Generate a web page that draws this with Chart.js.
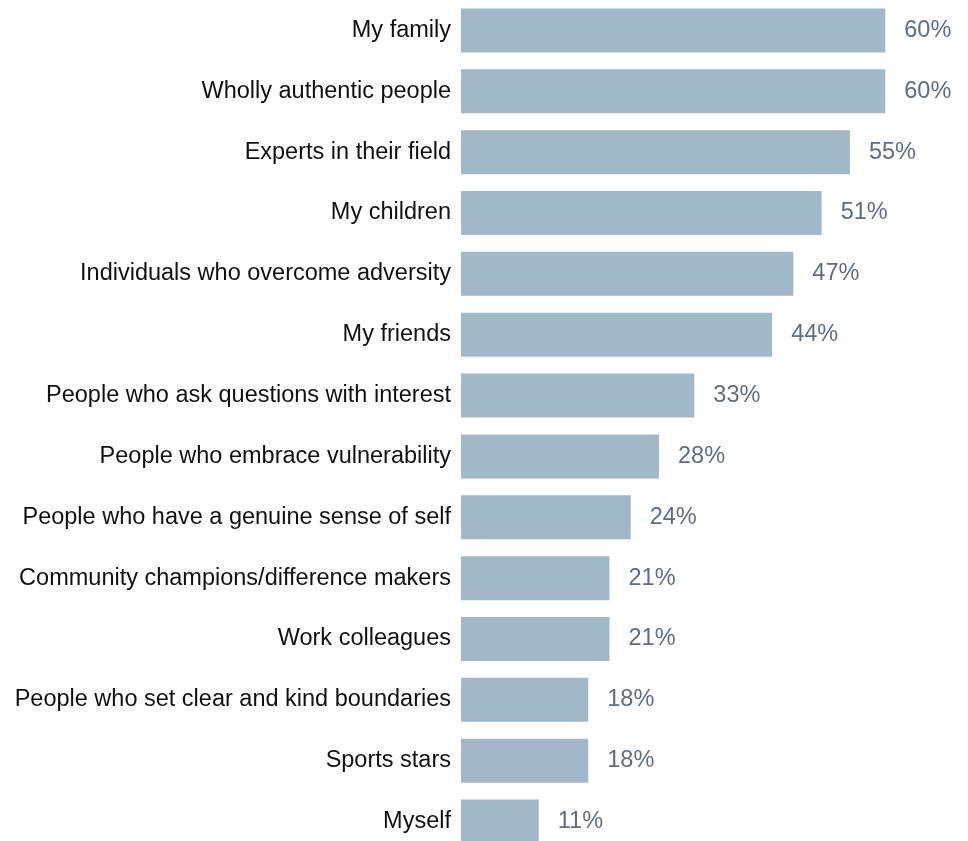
<!DOCTYPE html>
<html>
<head>
<meta charset="utf-8">
<script src="https://cdn.jsdelivr.net/npm/chart.js@4"></script>
<style>
  html, body { margin: 0; padding: 0; background: #fff; overflow: hidden; }
  #wrap { position: relative; width: 968px; height: 852px; }
</style>
</head>
<body>
<div id="wrap"><canvas id="myChart"></canvas></div>
<script>
let categories = [
  "My family",
  "Wholly authentic people",
  "Experts in their field",
  "My children",
  "Individuals who overcome adversity",
  "My friends",
  "People who ask questions with interest",
  "People who embrace vulnerability",
  "People who have a genuine sense of self",
  "Community champions/difference makers",
  "Work colleagues",
  "People who set clear and kind boundaries",
  "Sports stars",
  "Myself",
];
let shares = [60, 60, 55, 51, 47, 44, 33, 28, 24, 21, 21, 18, 18, 11];

let fontFamily = "'Liberation Sans', Arial, Helvetica, sans-serif";
let fontSize = 23.5;

// percent labels to the right of each bar
let valueLabels = {
  id: "valueLabels",
  afterDatasetsDraw(chart) {
    let ctx = chart.ctx;
    let meta = chart.getDatasetMeta(0);
    ctx.save();
    ctx.font = fontSize + "px " + fontFamily;
    ctx.fillStyle = "#5b6f81";
    ctx.textAlign = "left";
    ctx.textBaseline = "middle";
    meta.data.forEach((bar, i) => {
      ctx.fillText(shares[i] + "%", bar.x + 19, bar.y);
    });
    ctx.restore();
  },
};

let ctx = document.getElementById("myChart").getContext("2d");
let barChart = new Chart(ctx, {
  type: "bar",
  data: {
    labels: categories,
    datasets: [
      {
        data: shares,
        backgroundColor: "#a1b8c8",
        borderWidth: 0,
        barPercentage: 0.723,
        categoryPercentage: 1,
      },
    ],
  },
  options: {
    indexAxis: "y",
    responsive: true,
    maintainAspectRatio: false,
    animation: false,
    layout: { padding: { left: 0, right: 12, top: 0, bottom: 0 } },
    plugins: {
      legend: { display: false },
      tooltip: { enabled: false },
    },
    scales: {
      x: {
        min: 0,
        max: 70,
        display: false,
      },
      y: {
        afterFit(scale) {
          // fixed label column, no extra space above/below the bars
          scale.width = 461;
          scale.paddingTop = 0;
          scale.paddingBottom = 0;
        },
        grid: { display: false, drawTicks: false },
        border: { display: false },
        ticks: {
          color: "#111111",
          padding: 10,
          font: { size: fontSize, family: fontFamily },
        },
      },
    },
  },
  plugins: [valueLabels],
});
</script>
</body>
</html>
